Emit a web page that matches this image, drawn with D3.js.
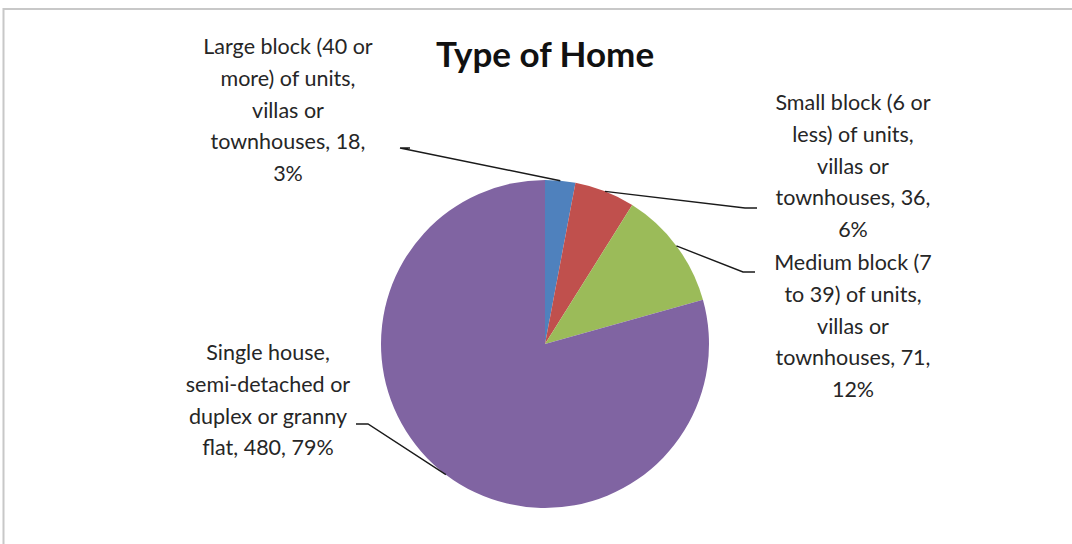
<!DOCTYPE html>
<html>
<head>
<meta charset="utf-8">
<script src="https://cdn.jsdelivr.net/npm/d3@7"></script>
<style>
  body { margin: 0; background: #fff; }
  svg text { font-family: Lato, "Open Sans", sans-serif; fill: #262626; }
</style>
</head>
<body>
<div id="chart"></div>
<script>
  // data
  var categories = [
    "Large block (40 or more) of units, villas or townhouses",
    "Small block (6 or less) of units, villas or townhouses",
    "Medium block (7 to 39) of units, villas or townhouses",
    "Single house, semi-detached or duplex or granny flat"
  ];
  var counts = [18, 36, 71, 480];
  var percents = ["3%", "6%", "12%", "79%"];
  // how the label text is broken over lines
  var labelLines = [
    ["Large block (40 or", "more) of units,", "villas or", "townhouses, 18,", "3%"],
    ["Small block (6 or", "less) of units,", "villas or", "townhouses, 36,", "6%"],
    ["Medium block (7", "to 39) of units,", "villas or", "townhouses, 71,", "12%"],
    ["Single house,", "semi-detached or", "duplex or granny", "flat, 480, 79%"]
  ];
  var colors = ["#4F81BD", "#C0504D", "#9BBB59", "#8064A2"];

  var width = 1072, height = 544;
  var cx = 545, cy = 344, radius = 164;

  // label boxes: centre x, first baseline y, elbow of leader, end of leader
  var labelLayout = [
    { x: 288, y: 54, elbow: [400, 148], end: [410, 148] },
    { x: 853, y: 110, elbow: [745, 208], end: [757, 208] },
    { x: 853, y: 270, elbow: [743, 272], end: [755, 272] },
    { x: 268, y: 360, elbow: [368, 424], end: [356, 424] }
  ];
  var lineH = 31.8;

  var svg = d3.select("#chart").append("svg")
    .attr("width", width).attr("height", height);

  // chart area border (only top and left show in the crop)
  svg.append("rect")
    .attr("x", 3.5).attr("y", 9)
    .attr("width", width + 20).attr("height", height + 20)
    .attr("fill", "none")
    .attr("stroke", "#c8c8c8")
    .attr("stroke-width", 2);

  svg.append("text")
    .attr("x", cx).attr("y", 67)
    .attr("text-anchor", "middle")
    .style("font-size", "35px")
    .style("font-weight", "bold")
    .style("fill", "#111")
    .text("Type of Home");

  var pie = d3.pie().sort(null).value(function (d) { return d; });
  var arcs = pie(counts);
  var arc = d3.arc().innerRadius(0).outerRadius(radius);
  var edge = d3.arc().innerRadius(radius).outerRadius(radius);

  var g = svg.append("g").attr("transform", "translate(" + cx + "," + cy + ")");

  g.selectAll("path.slice")
    .data(arcs)
    .enter().append("path")
    .attr("class", "slice")
    .attr("d", arc)
    .attr("fill", function (d, i) { return colors[i]; });

  // leader lines
  svg.selectAll("polyline.leader")
    .data(arcs)
    .enter().append("polyline")
    .attr("class", "leader")
    .attr("fill", "none")
    .attr("stroke", "#1a1a1a")
    .attr("stroke-width", 1.4)
    .attr("points", function (d, i) {
      var c = edge.centroid(d);
      var L = labelLayout[i];
      return [[cx + c[0], cy + c[1]], L.elbow, L.end].map(function (p) { return p.join(","); }).join(" ");
    });

  // labels
  var labels = svg.selectAll("text.label")
    .data(arcs)
    .enter().append("text")
    .attr("class", "label")
    .attr("text-anchor", "middle")
    .style("font-size", "21.5px")
    .attr("x", function (d, i) { return labelLayout[i].x; })
    .attr("y", function (d, i) { return labelLayout[i].y; });

  labels.each(function (d, i) {
    d3.select(this).selectAll("tspan")
      .data(labelLines[i])
      .enter().append("tspan")
      .attr("x", labelLayout[i].x)
      .attr("dy", function (t, j) { return j === 0 ? 0 : lineH; })
      .text(function (t) { return t; });
  });
</script>
</body>
</html>
